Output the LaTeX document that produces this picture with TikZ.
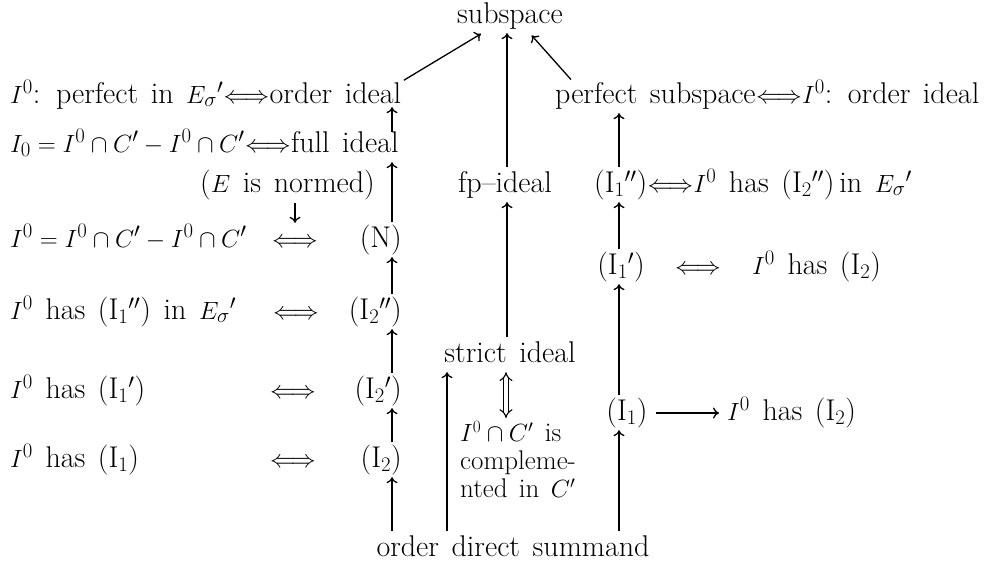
\documentclass[tikz,border=0pt]{standalone}
\usetikzlibrary{arrows.meta}
\newcommand\dgmfont{\fontsize{30}{36}\selectfont\spaceskip=.42em plus .1em\relax}
\newcommand\dgmfontb{\fontsize{27}{28}\selectfont\spaceskip=.42em plus .1em\relax}
\newcommand\eqvsym{$\Longleftrightarrow$}
\begin{document}
\begin{tikzpicture}[x=1pt,y=-1pt,
  txt/.style={inner sep=0pt, font=\dgmfont, text height=21pt, text depth=7pt},
  arr/.style={line width=1.3pt, shorten <=4pt, shorten >=3pt, -{Computer Modern Rightarrow[length=6pt,width=11pt,line width=1.3pt]}},
  eqv/.style={double, double distance=3.4pt, line width=1.1pt, shorten <=3pt, shorten >=3pt, {Implies}-{Implies}}]
\fill[white] (0,0) rectangle (1004,565);
\useasboundingbox (0,0) rectangle (1004,565);
% column coordinates
\coordinate (cL) at (392,0);
\coordinate (cS) at (447,0);
\coordinate (cM) at (507,0);
\coordinate (cD) at (506,0);
\coordinate (cR) at (619,0);
\coordinate (cE) at (295,0);
% top
\node[txt] (sub) at (510,16) {subspace};
% row 2
\node[txt,anchor=west] (pe) at (10,96) {$I^0$: perfect in $E_\sigma{}'$};
\node[txt,anchor=west] (eq1) at (pe.east) {\eqvsym};
\node[txt,anchor=west] (oi) at (eq1.east) {order ideal};
\node[txt,anchor=west] (ps) at (555,96) {perfect subspace};
\node[txt,anchor=west] (eq2) at (ps.east) {\eqvsym};
\node[txt,anchor=west] (ioi) at (eq2.east) {$I^0$: order ideal};
% row 3
\node[txt,anchor=west] (iz) at (10,145) {$I_0=I^0\cap C'-I^0\cap C'$};
\node[txt,anchor=west] (eq3) at (iz.east) {\eqvsym};
\node[txt,anchor=west] (fi) at (eq3.east) {full ideal};
% row 4
\node[txt,anchor=east] (nrm) at (375,185) {($E$ is normed)};
\node[txt] (fp) at (505,185) {fp--ideal};
\node[txt,anchor=west] (i1pp) at (594,185) {(I$_1{}''$)};
\node[txt,anchor=west] (eq4) at (i1pp.east) {\eqvsym};
\node[txt,anchor=west] (i0h2pp) at (eq4.east) {$I^0$ has (I$_2{}''$)\,in $E_\sigma{}'$};
% row 5
\node[txt,anchor=west] (ieq) at (10,240) {$I^0=I^0\cap C'-I^0\cap C'$};
\node[txt] (eqN) at (295,240) {\eqvsym};
\node[txt,anchor=east] (N) at (402,240) {(N)};
% row 6
\node[txt] (i1p) at (621,267) {(I$_1{}'$)};
\node[txt] (eq5) at (698,267) {\eqvsym};
\node[txt,anchor=west] (i0h2a) at (752,267) {$I^0$ has (I$_2$)};
% row 7
\node[txt,anchor=west] (h1pp) at (10,312) {$I^0$ has (I$_1{}''$) in $E_\sigma{}'$};
\node[txt] (eq6) at (296,312) {\eqvsym};
\node[txt,anchor=east] (i2pp) at (402,312) {(I$_2{}''$)};
% strict ideal
\node[txt] (st) at (510,355) {strict ideal};
% row 8
\node[txt,anchor=west] (h1p) at (10,391) {$I^0$ has (I$_1{}'$)};
\node[txt] (eq7) at (293,391) {\eqvsym};
\node[txt,anchor=east] (i2p) at (402,391) {(I$_2{}'$)};
% (I1) row
\node[txt] (i1) at (627,413) {(I$_1$)};
\node[txt,anchor=west] (i0h2b) at (727,413) {$I^0$ has (I$_2$)};
% complemented
\node[inner sep=0pt, anchor=north west, align=left, font=\dgmfontb] (icc) at (460,421) {$I^0\cap C'$ is\\compleme-\\nted in $C'$};
% row 9
\node[txt,anchor=west] (h1) at (10,460) {$I^0$ has (I$_1$)};
\node[txt] (eq8) at (293,460) {\eqvsym};
\node[txt,anchor=east] (i2) at (402,460) {(I$_2$)};
% bottom
\node[txt] (ods) at (513,549) {order direct summand};
% connectors
\draw[arr, shorten <=3pt, shorten >=7pt] (oi.north east) -- ([xshift=-23pt]sub.south);
\draw[arr] (fp.north -| cM) -- (sub.south -| cM);
\draw[arr, shorten <=3pt, shorten >=7pt] ([xshift=18pt]ps.north west) -- ([xshift=17pt]sub.south);
\draw[arr, shorten <=-1pt, shorten >=-3pt] (fi.north -| cL) -- (oi.south -| cL);
\draw[arr] (N.north -| cL) -- (fi.south -| cL);
\draw[arr] (i2pp.north -| cL) -- (N.south -| cL);
\draw[arr] (i2p.north -| cL) -- (i2pp.south -| cL);
\draw[arr] (i2.north -| cL) -- (i2p.south -| cL);
\draw[arr] (ods.north -| cL) -- (i2.south -| cL);
\draw[arr] (ods.north -| cS) -- (st.south -| cS);
\draw[arr] (st.north -| cM) -- (fp.south -| cM);
\draw[eqv] (st.south -| cD) -- (icc.north -| cD);
\draw[arr] (ods.north -| cR) -- (i1.south -| cR);
\draw[arr] (i1.north -| cR) -- (i1p.south -| cR);
\draw[arr] (i1p.north -| cR) -- (i1pp.south -| cR);
\draw[arr] (i1pp.north -| cR) -- (ps.south -| cR);
\draw[arr] (nrm.south -| cE) -- (eqN.north -| cE);
\draw[arr, shorten <=8pt, shorten >=8pt] (i1) -- (i0h2b);
\end{tikzpicture}
\end{document}
